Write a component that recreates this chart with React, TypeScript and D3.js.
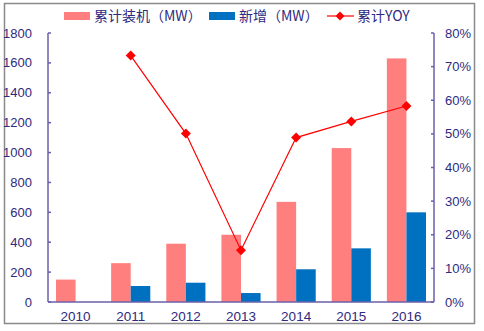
import React from "react";
import * as d3 from "d3";

const years = ["2010", "2011", "2012", "2013", "2014", "2015", "2016"];
const cumulative = [150, 260, 390, 450, 670, 1030, 1630];
const added = [0, 107, 129, 60, 219, 359, 600];
const yoy = [null, 73.3, 50.1, 15.4, 48.9, 53.7, 58.3];
const leftTicks = [0, 200, 400, 600, 800, 1000, 1200, 1400, 1600, 1800];
const rightTicks = [0, 10, 20, 30, 40, 50, 60, 70, 80];

const W = 484, H = 331;
const m = { left: 48, right: 434, top: 33, bottom: 302 };
const textColor = "#2e2a80";
const axisColor = "#6a5fa8";
const font = "'Liberation Sans', Arial, sans-serif";

export default function App() {
  const x = d3.scaleBand<string>().domain(years).range([m.left, m.right]).paddingInner(0.29).paddingOuter(0.145);
  const yL = d3.scaleLinear().domain([0, 1800]).range([m.bottom, m.top]);
  const yR = d3.scaleLinear().domain([0, 80]).range([m.bottom, m.top]);
  const bw = x.bandwidth() / 2;
  const pts = years.map((yr, i) => ({ yr, v: yoy[i] })).filter((d) => d.v !== null) as { yr: string; v: number }[];
  const line = d3.line<{ yr: string; v: number }>().x((d) => (x(d.yr) as number) + bw).y((d) => yR(d.v));
  const diamond = (cx: number, cy: number, r: number) => `M${cx},${cy - r}L${cx + r},${cy}L${cx},${cy + r}L${cx - r},${cy}Z`;

  return (
    <svg width={W} height={H} style={{ position: "absolute", left: 0, top: 0, background: "#fff" }} fontFamily={font}>
      <rect x={4.5} y={3.5} width={470} height={320} fill="#fff" stroke="#8a8a8a" strokeWidth={1.5} />
      {/* bars */}
      {years.map((yr, i) => (
        <g key={yr}>
          <rect x={x(yr)} y={yL(cumulative[i])} width={bw} height={m.bottom - yL(cumulative[i])} fill="#ff7f7f" />
          {added[i] > 0 && (
            <rect x={(x(yr) as number) + bw} y={yL(added[i])} width={bw} height={m.bottom - yL(added[i])} fill="#0070c0" />
          )}
        </g>
      ))}
      {/* axes */}
      <line x1={m.left} x2={m.left} y1={m.top} y2={m.bottom} stroke={axisColor} strokeWidth={1.5} />
      <line x1={m.right} x2={m.right} y1={m.top} y2={m.bottom} stroke={axisColor} strokeWidth={1.5} />
      <line x1={m.left} x2={m.right} y1={m.bottom} y2={m.bottom} stroke={axisColor} strokeWidth={1.5} />
      {leftTicks.map((t) => (
        <g key={"l" + t}>
          <line x1={m.left} x2={m.left + 3} y1={yL(t)} y2={yL(t)} stroke={axisColor} strokeWidth={1.5} />
          <text x={32} y={yL(t)} dy="0.35em" textAnchor="end" fontSize={13} fill={textColor}>{t}</text>
        </g>
      ))}
      {rightTicks.map((t) => (
        <g key={"r" + t}>
          <line x1={m.right - 3} x2={m.right} y1={yR(t)} y2={yR(t)} stroke={axisColor} strokeWidth={1.5} />
          <text x={445} y={yR(t)} dy="0.35em" textAnchor="start" fontSize={13} fill={textColor}>{t}%</text>
        </g>
      ))}
      {years.map((yr) => (
        <text key={"x" + yr} x={(x(yr) as number) + bw} y={321} textAnchor="middle" fontSize={13.5} fill={textColor}>{yr}</text>
      ))}
      {/* line */}
      <path d={line(pts) || ""} fill="none" stroke="#ff0000" strokeWidth={1.2} />
      {pts.map((d) => (
        <path key={"m" + d.yr} d={diamond((x(d.yr) as number) + bw, yR(d.v), 5)} fill="#ff0000" />
      ))}
      {/* legend */}
      <rect x={64} y={12} width={26} height={8} fill="#ff7f7f" />
      <text x={94} y={16} dy="0.35em" fontSize={14} fill={textColor} fontFamily="'Noto Sans CJK SC', 'Liberation Sans', sans-serif">累计装机（MW）</text>
      <rect x={209} y={12} width={26} height={8} fill="#0070c0" />
      <text x={239} y={16} dy="0.35em" fontSize={14} fill={textColor} fontFamily="'Noto Sans CJK SC', 'Liberation Sans', sans-serif">新增（MW）</text>
      <line x1={327} x2={354} y1={16} y2={16} stroke="#ff0000" strokeWidth={1.2} />
      <path d={diamond(340, 16, 4.5)} fill="#ff0000" />
      <text x={357} y={16} dy="0.35em" fontSize={14} fill={textColor} fontFamily="'Noto Sans CJK SC', 'Liberation Sans', sans-serif">累计YOY</text>
    </svg>
  );
}
